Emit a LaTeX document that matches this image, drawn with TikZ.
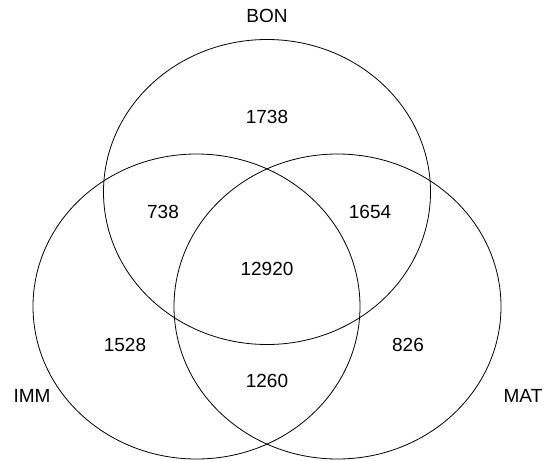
\documentclass[tikz,border=0pt]{standalone}
\usepackage{fontspec}
\setmainfont{Liberation Sans}
\usetikzlibrary{shapes.geometric}
\begin{document}
\begin{tikzpicture}[x=1pt,y=-1pt,
  setshape/.style={draw=black,line width=0.8pt,ellipse,minimum width=327pt,minimum height=305pt,inner sep=0pt},
  lbl/.style={font=\fontsize{19}{22}\selectfont,inner sep=0pt,anchor=center}]
\useasboundingbox (0,0) rectangle (545,460);
\node[setshape] (bon) at (267,192) {};
\node[setshape] (imm) at (196.5,306.5) {};
\node[setshape] (mat) at (337.5,306.5) {};
\node[lbl] (tbon) at (267,16) {BON};
\node[lbl] (timm) at (32,396) {IMM};
\node[lbl] (tmat) at (523,396) {MAT};
\node[lbl] (n1738) at (267,117) {1738};
\node[lbl] (n738) at (163,212) {738};
\node[lbl] (n1654) at (370,212) {1654};
\node[lbl] (n12920) at (267,269) {12920};
\node[lbl] (n1528) at (125,345) {1528};
\node[lbl] (n826) at (408,345) {826};
\node[lbl] (n1260) at (267,381) {1260};
\end{tikzpicture}
\end{document}
